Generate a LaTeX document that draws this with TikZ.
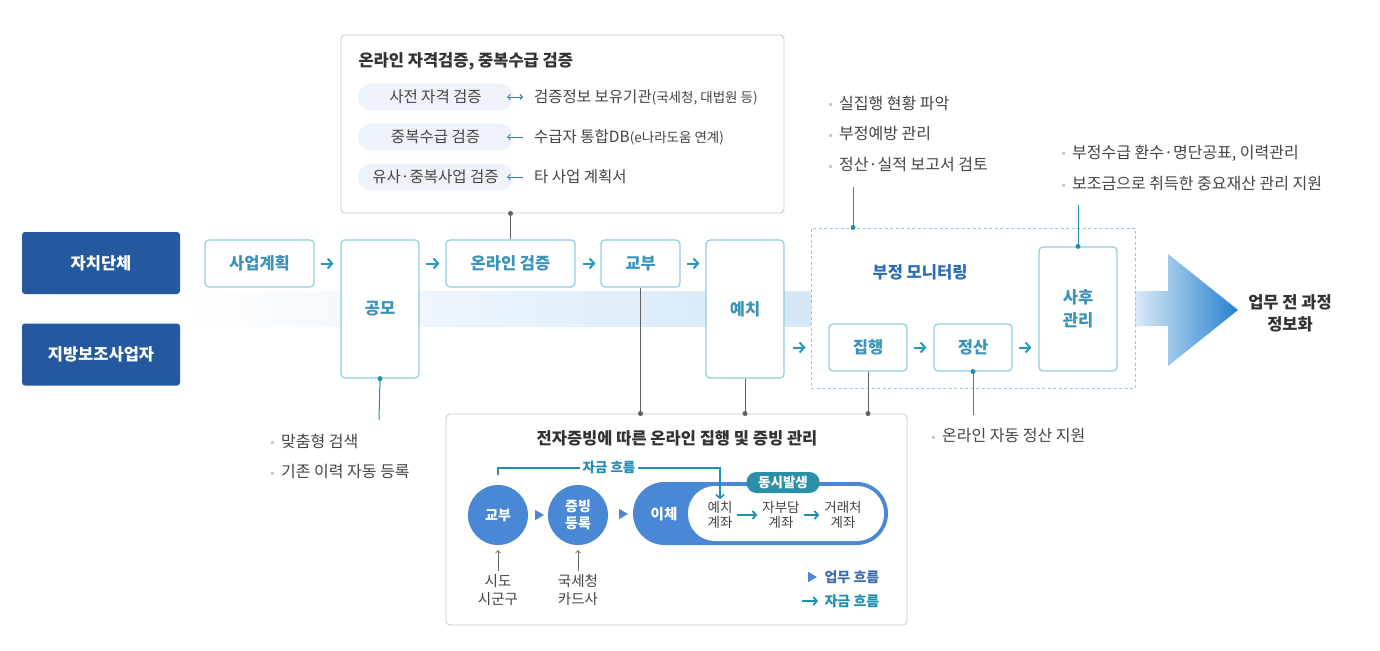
\documentclass[tikz,border=0pt]{standalone}
\usepackage{fontspec}
\setmainfont{Noto Sans CJK KR}
\usetikzlibrary{arrows.meta, calc, shapes.geometric}
\definecolor{orgblue}{HTML}{2459A0}
\definecolor{boxline}{HTML}{8DCDE0}
\definecolor{boxtext}{HTML}{3A93B8}
\definecolor{flowteal}{HTML}{1F9BC3}
\definecolor{textgray}{HTML}{444444}
\definecolor{textdark}{HTML}{333333}
\definecolor{framegray}{HTML}{CACACA}
\definecolor{pillfill}{HTML}{EEF3FB}
\definecolor{arrblue}{HTML}{3D74C0}
\definecolor{circblue}{HTML}{4A88D6}
\definecolor{fundteal}{HTML}{1E8FB0}
\definecolor{syncteal}{HTML}{2B8FA8}
\definecolor{monblue}{HTML}{2C6CB3}
\definecolor{bandblue}{HTML}{D3E7F7}
\definecolor{arrowdark}{HTML}{2680CF}
\newcommand{\bul}{{\color{gray!40}\rule[0.35ex]{3pt}{3pt}}\hspace{7pt}}
\tikzset{
  org/.style={fill=orgblue, rounded corners=3pt, text=white, font=\fontsize{16.5}{20}\selectfont\bfseries,
      minimum width=158pt, minimum height=62pt},
  stepbox/.style={draw=boxline, line width=1.2pt, rounded corners=4pt, fill=white, text=boxtext,
      font=\fontsize{16.5}{23}\selectfont\bfseries, align=center},
  flow/.style={flowteal, line width=2pt, -{Straight Barb[length=4.5pt, width=10pt]}},
  frame/.style={draw=framegray, line width=0.9pt, rounded corners=4pt, fill=white},
  title/.style={text=textdark, font=\fontsize{16.5}{19}\selectfont\bfseries},
  pill/.style={fill=pillfill, rounded corners=13pt, minimum width=155pt, minimum height=27pt,
      text=textgray, font=\fontsize{15.5}{18}\selectfont},
  note/.style={anchor=west, text=textgray, font=\fontsize{16}{19}\selectfont, inner sep=1pt},
  link/.style={gray!75!black, line width=0.8pt},
  tlink/.style={fundteal, line width=1pt},
  dot/.style={circle, fill, inner sep=0pt, minimum size=5pt},
  circ/.style={circle, fill=circblue, minimum size=60pt, inner sep=0pt, text=white,
      font=\fontsize{14}{17}\selectfont\bfseries, align=center},
  tri/.style={isosceles triangle, isosceles triangle apex angle=60, fill=circblue, inner sep=0pt,
      minimum height=9pt, minimum width=10pt},
  acct/.style={text=textgray, font=\fontsize{13.5}{15}\selectfont, align=center, inner sep=1pt},
  aflow/.style={fundteal, line width=1.8pt, -{Straight Barb[length=3.5pt, width=8pt]}},
}
\begin{document}
\begin{tikzpicture}[x=1pt, y=-1pt]
  \useasboundingbox (0,0) rectangle (1380,650);
  % band and big arrow
  \shade[left color=white, right color=bandblue] (180,291) rectangle (811,326);
  \shade[left color=bandblue!85, right color=arrowdark] (1135,291) -- (1168,291) -- (1168,254) -- (1238,310)
      -- (1168,366) -- (1168,326) -- (1135,326) -- cycle;
  \node[text=textdark, font=\fontsize{16.5}{22}\selectfont\bfseries, align=center] (goal) at (1290,313) {업무 전 과정\\정보화};

  \node[org] (city) at (101,263) {자치단체};
  \node[org] (biz) at (101,354.5) {지방보조사업자};

  % top frame
  \node[frame, minimum width=443pt, minimum height=178pt] (check) at (562.5,124) {};
  \node[title, anchor=west] (checkT) at (355,61) {온라인 자격검증, 중복수급 검증};
  \foreach \i/\y/\a/\b in {1/97/사전 자격 검증/{검증정보 보유기관{\fontsize{13.5}{16}\selectfont(국세청, 대법원 등)}},
      2/137/중복수급 검증/{수급자 통합DB{\fontsize{13.5}{16}\selectfont(e나라도움 연계)}},
      3/177/유사·중복사업 검증/타 사업 계획서} {
    \node[pill] (p\i) at (435.5,\y) {\a};
    \node[note, font=\fontsize{15.5}{18}\selectfont] (s\i) at (533,\y) {\b};
  }
  \draw[arrblue, line width=0.9pt, {Straight Barb[length=2.5pt, width=5pt]}-{Straight Barb[length=2.5pt, width=5pt]}]
      ([xshift=-6pt]p1.east) -- ([xshift=-10pt]s1.west);
  \foreach \i in {2,3}
    \draw[arrblue, line width=0.9pt, {Straight Barb[length=2.5pt, width=5pt]}-]
      ([xshift=-6pt]p\i.east) -- ([xshift=-10pt]s\i.west);

  % monitoring area
  \node[draw=boxline, line width=1pt, dash pattern=on 3pt off 2.5pt, minimum width=324pt, minimum height=160pt] (monitor) at (973,308) {};
  \node[text=monblue, font=\fontsize{16.5}{19}\selectfont\bfseries] (monT) at (920,272) {부정 모니터링};

  % steps
  \node[stepbox, minimum width=109pt, minimum height=47pt] (plan) at (259.5,263.5) {사업계획};
  \node[stepbox, minimum width=78pt, minimum height=138pt] (contest) at (380,309) {공모};
  \node[stepbox, minimum width=129pt, minimum height=47pt] (online) at (510.5,263.5) {온라인 검증};
  \node[stepbox, minimum width=79pt, minimum height=47pt] (grant) at (640.5,263.5) {교부};
  \node[stepbox, minimum width=78pt, minimum height=138pt] (deposit) at (745,309) {예치};
  \node[stepbox, minimum width=78pt, minimum height=47pt] (exec) at (868,347.5) {집행};
  \node[stepbox, minimum width=78pt, minimum height=47pt] (settle) at (973,347.5) {정산};
  \node[stepbox, minimum width=78pt, minimum height=124pt] (after) at (1078,309) {사후\\관리};

  \draw[flow, shorten <=6pt, shorten >=7pt] (plan.east) -- (plan.east -| contest.west);
  \draw[flow, shorten <=6pt, shorten >=6pt] (plan.east -| contest.east) -- (online.west);
  \draw[flow, shorten <=7pt, shorten >=5pt] (online.east) -- (grant.west);
  \draw[flow, shorten <=6pt, shorten >=6pt] (grant.east) -- (grant.east -| deposit.west);
  \draw[flow, shorten <=8pt, shorten >=5pt] (exec.west -| deposit.east) -- (exec.west -| monitor.west);
  \draw[flow, shorten <=6pt, shorten >=7pt] (exec.east) -- (settle.west);
  \draw[flow, shorten <=6pt, shorten >=7pt] (settle.east) -- (settle.east -| after.west);

  % links to frames
  \draw[link] (check.south -| online.north) node[dot, gray!75!black] {} -- (online.north);

  % bottom frame
  \node[frame, minimum width=461pt, minimum height=211pt] (evid) at (676.5,519.5) {};
  \draw[link] (grant.south) -- (grant.south |- evid.north) node[dot, gray!75!black] {};
  \draw[link] (deposit.south) -- (deposit.south |- evid.north) node[dot, gray!75!black] {};
  \draw[link] (exec.south) -- (exec.south |- evid.north) node[dot, gray!75!black] {};
  \node[title] (evidT) at (677,438) {전자증빙에 따른 온라인 집행 및 증빙 관리};

  \node[circ] (cgrant) at (498,515) {교부};
  \node[circ] (creg) at (578,515) {증빙\\등록};
  \node[fill=circblue, rounded corners=31.5pt, minimum width=255pt, minimum height=63pt] (xfer) at (760.5,513.5) {};
  \node[fill=white, rounded corners=27pt, minimum width=196pt, minimum height=55pt] (accts) at (786,513.5) {};
  \node[text=white, font=\fontsize{14.5}{17}\selectfont\bfseries] (xferT) at (664,514) {이체};
  \node[tri] (t1) at ($(cgrant)!0.5!(creg)$) {};
  \node[tri] (t2) at (622,514) {};

  \node[acct] (a1) at (720,515) {예치\\계좌};
  \node[acct] (a2) at (781,515) {자부담\\계좌};
  \node[acct] (a3) at (843,515) {거래처\\계좌};
  \draw[aflow, shorten <=3pt, shorten >=4pt] (a1) -- (a2);
  \draw[aflow, shorten <=3pt, shorten >=4pt] (a2) -- (a3);
  \node[fill=syncteal, rounded corners=10pt, minimum width=73pt, minimum height=21pt, inner sep=0pt,
      text=white, font=\fontsize{13.5}{15}\selectfont\bfseries] (sync) at (783,482.5) {동시발생};

  \draw[fundteal, line width=1.6pt, -{Straight Barb[length=3.5pt, width=8pt]}]
      ([yshift=10pt]cgrant.north) -- ++(0,-7) -| node[pos=0.25, fill=white, inner sep=3pt,
      font=\fontsize{13.5}{16}\selectfont\bfseries] (fundT) {자금 흐름} ([yshift=1pt]a1.north);

  \node[acct, font=\fontsize{14.5}{18}\selectfont] (src1) at (498,590) {시도\\시군구};
  \node[acct, font=\fontsize{14.5}{18}\selectfont] (src2) at (578,590) {국세청\\카드사};
  \foreach \s/\c in {src1/cgrant, src2/creg}
    \draw[gray!80!black, line width=0.7pt, -{Straight Barb[length=2.5pt, width=5pt]}]
      ([yshift=2pt]\s.north) -- ([yshift=-5pt]\c.south);

  % legend
  \node[tri] (lg1) at (811,577) {};
  \node[anchor=west, text=circblue!80!black, font=\fontsize{14}{16}\selectfont\bfseries] (lgT1) at (821,577) {업무 흐름};
  \coordinate (lg2a) at (802,601);
  \coordinate (lg2b) at (818,601);
  \draw[aflow] (lg2a) -- (lg2b);
  \node[anchor=west, text=fundteal, font=\fontsize{14}{16}\selectfont\bfseries] (lgT2) at (821,601) {자금 흐름};

  % notes
  \foreach \t [count=\i] in {맞춤형 검색, 기존 이력 자동 등록}
    \node[note] (n\i) at (270,410+31*\i) {\bul\t};
  \coordinate (cn) at (379,420);
  \draw[tlink] (contest.south) node[dot, fundteal] {} -- (cn);

  \foreach \t [count=\i] in {실집행 현황 파악, 부정예방 관리, 정산·실적 보고서 검토}
    \node[note] (m\i) at (828,72+31*\i) {\bul\t};
  \coordinate (cm) at (853,187);
  \draw[tlink] (cm) -- (cm |- monitor.north) node[dot, fundteal] {};

  \foreach \t [count=\i] in {{부정수급 환수·명단공표, 이력관리}, 보조금으로 취득한 중요재산 관리 지원}
    \node[note] (r\i) at (1061,122+31*\i) {\bul\t};
  \coordinate (cr) at (1078,205);
  \draw[tlink] (cr) -- (after.north) node[dot, fundteal] {};

  \node[note] (q1) at (931,436) {\bul 온라인 자동 정산 지원};
  \coordinate (cq) at (973,415);
  \draw[tlink] (settle.south) node[dot, fundteal] {} -- (cq);
\end{tikzpicture}
\end{document}
